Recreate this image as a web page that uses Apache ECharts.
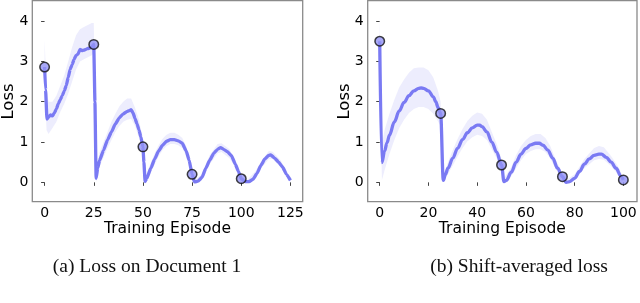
<!DOCTYPE html>
<html>
<head>
<meta charset="utf-8">
<script src="https://cdn.jsdelivr.net/npm/echarts@6/dist/echarts.min.js"></script>
<style>html,body{margin:0;padding:0;background:#fff}#c{width:640px;height:303px}</style>
</head>
<body>
<div id="c"></div>
<script>
// ---------- Data: (a) Loss on Document 1 ----------
const xA = [0,0.5,1.2,2,3,4,5,6,7,8,9,10,11,12,13,14,15,16,17,18,19,20,21,22,23,24,25,25.6,26.2,27,28,30,32,34,36,38,40,42,43,44,45,46,47,48,49,50,50.5,51.1,52,54,56,58,60,62,64,66,68,70,72,73.5,75,76.2,78,80,82,84,86,88,89.5,91,93,95,97,98.5,100,102,104,106,108,110,112,114,115,117,119,121,123,125];
const yA = [2.86,2.3,1.57,1.62,1.67,1.65,1.72,1.82,1.95,2.05,2.15,2.27,2.4,2.6,2.8,2.92,3.05,3.15,3.18,3.3,3.27,3.28,3.3,3.32,3.33,3.36,3.42,2.0,0.1,0.35,0.55,0.8,1.05,1.25,1.45,1.6,1.7,1.76,1.78,1.8,1.72,1.58,1.45,1.3,1.12,0.88,0.5,0.02,0.1,0.35,0.58,0.78,0.92,1.02,1.06,1.06,1.03,0.97,0.78,0.55,0.2,0.01,0.03,0.12,0.35,0.55,0.72,0.82,0.86,0.82,0.76,0.66,0.45,0.28,0.09,0.02,0.02,0.08,0.22,0.42,0.58,0.67,0.68,0.6,0.5,0.38,0.2,0.05];
const bandXA  = [0,1,2,4,6,8,10,12,14,16,18,20,22,24,25,25.6,26.2,28,30,32,34,36,38,40,42,44,46,48,50,51.1,54,56,58,60,62,64,66,68,70,72,75,76.2,80,84,88,90,94,97,100,103,107,110,114,116,120,125];
const bandLoA = [2.4,1.3,1.2,1.35,1.5,1.75,1.95,2.2,2.5,2.8,3.0,3.05,3.1,3.15,3.2,1.8,0.0,0.4,0.62,0.85,1.05,1.25,1.4,1.5,1.55,1.58,1.4,1.1,0.72,0.0,0.25,0.45,0.65,0.8,0.9,0.95,0.95,0.92,0.85,0.65,0.12,0.0,0.05,0.45,0.72,0.75,0.6,0.38,0.04,0.0,0.12,0.34,0.58,0.58,0.38,0.0];
const bandHiA = [3.55,2.3,2.0,2.0,2.15,2.4,2.65,3.0,3.35,3.65,3.8,3.85,3.9,3.95,3.95,2.4,0.3,0.75,1.0,1.25,1.5,1.7,1.88,2.0,2.08,2.08,1.85,1.55,1.05,0.12,0.48,0.72,0.92,1.08,1.18,1.23,1.23,1.18,1.1,0.9,0.3,0.06,0.2,0.68,0.95,0.97,0.82,0.55,0.15,0.06,0.26,0.5,0.78,0.76,0.55,0.1];
const markXA = [0,25,50,75,100];
const markYA = [2.86,3.42,0.88,0.2,0.09];
const ticksXA = [0,25,50,75,100,125];

// ---------- Data: (b) Shift-averaged loss ----------
const xB = [0,0.9,2,3,4,6,8,10,12,14,16,17,18,20,22,23,24,25,26.1,27,28,30,32,34,36,38,40,41,42,44,46,48,50,51,52,54,56,58,60,62,64,65.5,67,69,71,73,75,76.5,78,80,82,84,86,88,90,91,93,95,97,99,100];
const yB = [3.5,0.49,0.78,0.98,1.17,1.5,1.77,1.98,2.15,2.27,2.33,2.34,2.33,2.27,2.12,2.0,1.85,1.71,0.05,0.2,0.35,0.6,0.85,1.06,1.23,1.35,1.42,1.42,1.38,1.25,1.0,0.75,0.43,0.02,0.05,0.25,0.5,0.7,0.84,0.93,0.97,0.97,0.92,0.8,0.6,0.35,0.14,0.0,0.02,0.1,0.27,0.45,0.58,0.67,0.7,0.7,0.62,0.5,0.35,0.15,0.06];
const bandXB  = [0,0.9,2,4,6,8,10,12,14,16,18,20,22,24,25,26.1,28,30,32,34,36,38,40,42,44,46,48,50,51,54,56,58,60,62,64,66,68,70,72,75,76.5,80,84,88,90,92,95,98,100];
const bandLoB = [3.0,0.05,0.3,0.7,1.05,1.35,1.55,1.72,1.82,1.87,1.87,1.82,1.7,1.5,1.4,0.0,0.2,0.42,0.65,0.85,1.02,1.12,1.18,1.15,1.05,0.82,0.6,0.3,0.0,0.15,0.35,0.55,0.7,0.78,0.82,0.82,0.75,0.6,0.35,0.08,0.0,0.05,0.35,0.55,0.58,0.56,0.4,0.18,0.02];
const bandHiB = [4.15,0.95,1.3,1.7,2.05,2.35,2.55,2.72,2.83,2.85,2.85,2.78,2.6,2.25,2.0,0.15,0.5,0.8,1.08,1.32,1.52,1.65,1.73,1.7,1.55,1.25,0.95,0.58,0.1,0.38,0.68,0.9,1.05,1.15,1.2,1.2,1.1,0.9,0.6,0.22,0.05,0.2,0.58,0.85,0.9,0.87,0.65,0.38,0.12];
const markXB = [0,25,50,75,100];
const markYB = [3.5,1.71,0.43,0.14,0.06];
const ticksXB = [0,20,40,60,80,100];

const ticksY = [0,1,2,3,4];

// ---------- Styles ----------
const LINE = '#7a7af3';
const BAND = '#ededfd';
const MARK = '#9494f5';
const SPINE = '#8a8a8a';
const SANS = 'DejaVu Sans';

function pairs(xs, ys){ return xs.map((x,i)=>[x, ys[i]]); }

function bandSeries(gi, bx, lo, hi){
  return {
    type:'custom', xAxisIndex:gi, yAxisIndex:gi, z:1, silent:true,
    data: bx.map((x,i)=>[x, lo[i], hi[i]]),
    encode:{x:0, y:[1,2]},
    renderItem:function(params, api){
      if (params.dataIndex !== 0) return null;
      const pts = [];
      for (let i=0;i<bx.length;i++) pts.push(api.coord([bx[i], hi[i]]));
      for (let i=bx.length-1;i>=0;i--) pts.push(api.coord([bx[i], lo[i]]));
      return {type:'polygon', shape:{points:pts}, style:{fill:BAND}};
    }
  };
}

function xAxis(gi, min, max, ticks){
  return {
    type:'value', gridIndex:gi, min:min, max:max,
    axisLine:{show:false},
    splitLine:{show:false},
    axisTick:{show:true, inside:false, length:3.5, customValues:ticks, lineStyle:{color:'#444', width:1}},
    axisLabel:{customValues:ticks, margin:5, fontFamily:SANS, fontSize:14, color:'#000'}
  };
}
function yAxis(gi){
  return {
    type:'value', gridIndex:gi, min:-0.48, max:4.51,
    axisLine:{show:false},
    splitLine:{show:false},
    axisTick:{show:true, inside:false, length:3.5, customValues:ticksY, lineStyle:{color:'#444', width:1}},
    axisLabel:{customValues:ticksY, margin:4, fontFamily:SANS, fontSize:14, color:'#000'}
  };
}

const chart = echarts.init(document.getElementById('c'), null, {renderer:'canvas'});
chart.setOption({
  backgroundColor:'#fff',
  animation:false,
  grid:[
    {left:32.3, top:0.5, width:270.4, height:201.2, show:true, borderColor:SPINE, borderWidth:1.3, backgroundColor:'transparent'},
    {left:367.7, top:0.5, width:269.3, height:201.2, show:true, borderColor:SPINE, borderWidth:1.3, backgroundColor:'transparent'}
  ],
  xAxis:[ xAxis(0, -6.25, 131.25, ticksXA), xAxis(1, -4.93, 105.6, ticksXB) ],
  yAxis:[ yAxis(0), yAxis(1) ],
  series:[
    bandSeries(0, bandXA, bandLoA, bandHiA),
    {type:'line', xAxisIndex:0, yAxisIndex:0, z:2, data:pairs(xA,yA), showSymbol:false, smooth:0.15, smoothMonotone:'x',
     lineStyle:{color:LINE, width:3.3}},
    {type:'scatter', xAxisIndex:0, yAxisIndex:0, z:3, data:pairs(markXA,markYA), symbol:'circle', symbolSize:9.5,
     itemStyle:{color:MARK, borderColor:'#111', borderWidth:1.5}},
    bandSeries(1, bandXB, bandLoB, bandHiB),
    {type:'line', xAxisIndex:1, yAxisIndex:1, z:2, data:pairs(xB,yB), showSymbol:false, smooth:0.35, smoothMonotone:'x',
     lineStyle:{color:LINE, width:3.3}},
    {type:'scatter', xAxisIndex:1, yAxisIndex:1, z:3, data:pairs(markXB,markYB), symbol:'circle', symbolSize:9.5,
     itemStyle:{color:MARK, borderColor:'#111', borderWidth:1.5}}
  ],
  graphic:[
    {type:'text', x:9, y:101.5, rotation:Math.PI/2, style:{text:'Loss', font:'16.5px "DejaVu Sans"', fill:'#000', align:'center', verticalAlign:'middle'}},
    {type:'text', x:344.5, y:101.5, rotation:Math.PI/2, style:{text:'Loss', font:'16.5px "DejaVu Sans"', fill:'#000', align:'center', verticalAlign:'middle'}},
    {type:'text', x:167.5, y:229, style:{text:'Training Episode', font:'15.5px "DejaVu Sans"', fill:'#000', align:'center', verticalAlign:'middle'}},
    {type:'text', x:502.3, y:229, style:{text:'Training Episode', font:'15.5px "DejaVu Sans"', fill:'#000', align:'center', verticalAlign:'middle'}},
    {type:'text', x:147, y:266.5, style:{text:'(a) Loss on Document 1', font:'19.5px "Liberation Serif"', fill:'#111', align:'center', verticalAlign:'middle'}},
    {type:'text', x:519, y:266.5, style:{text:'(b) Shift-averaged loss', font:'19.5px "Liberation Serif"', fill:'#111', align:'center', verticalAlign:'middle'}}
  ]
});
</script>
</body>
</html>
